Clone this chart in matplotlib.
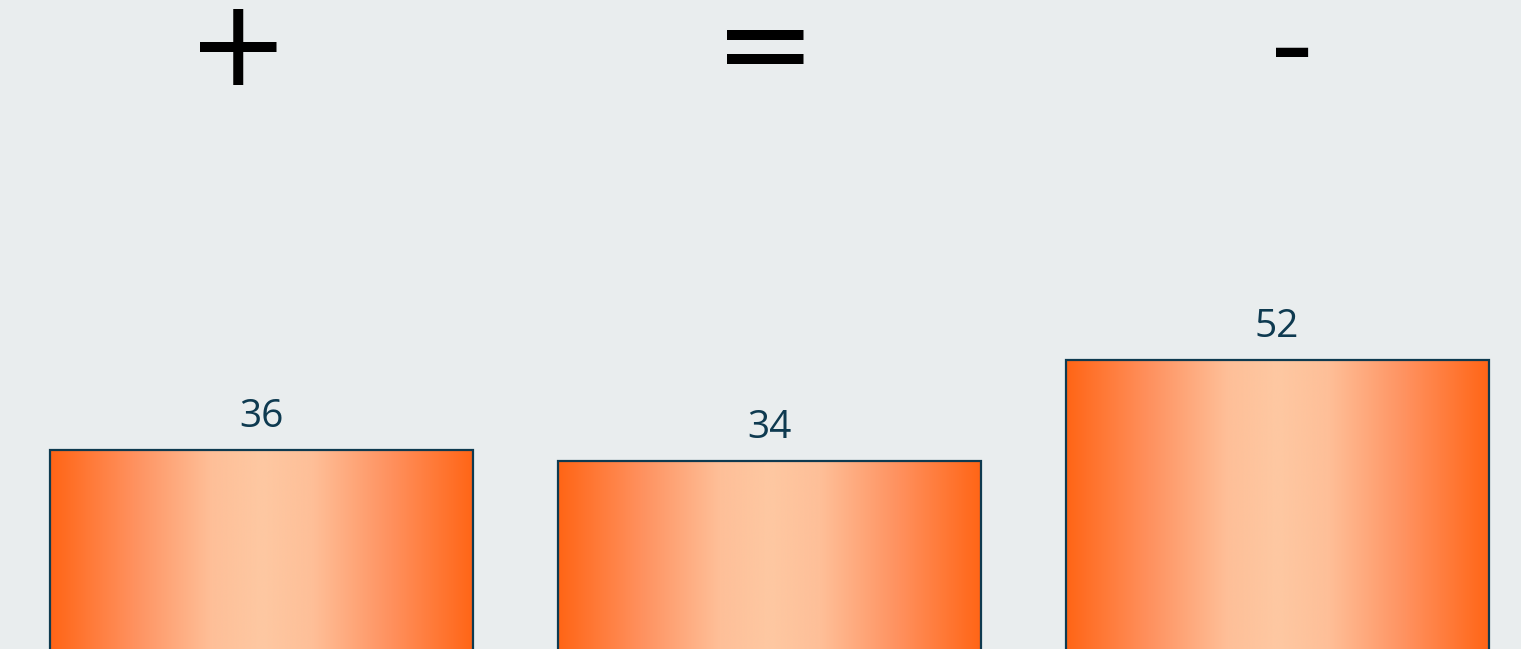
# answer counts by sign
import numpy as np
from matplotlib import pyplot as plt
from matplotlib.colors import LinearSegmentedColormap

plt.ioff()

categories = ['+', '=', '-']
values = [36, 34, 52]

bg = '#e9edee'
edge = '#0e3a50'
grad = LinearSegmentedColormap.from_list('bar', [
    (0.0, '#ff6516'), (0.2, '#ff9260'), (0.38, '#febf98'), (0.5, '#fec8a2'),
    (0.62, '#febf98'), (0.8, '#ff9260'), (1.0, '#ff6516')])

fig = plt.figure(figsize=(15.21, 6.49), dpi=100, facecolor=bg)
ax = fig.add_axes([0, 0, 1, 1])
ax.set_facecolor(bg)

x = np.arange(len(categories))
width = 0.833
bars = ax.bar(x, values, width=width, color='none', edgecolor=edge, linewidth=1.6, zorder=3)

# horizontal gradient fill, clipped to each bar
row = np.linspace(0, 1, 256).reshape(1, -1)
for b in bars:
    x0, y0 = b.get_x(), b.get_y()
    im = ax.imshow(row, cmap=grad, aspect='auto', interpolation='bicubic',
                   extent=(x0, x0 + b.get_width(), y0, y0 + b.get_height()), zorder=2)
    im.set_clip_path(b)

for xi, v in zip(x, values):
    ax.annotate(str(v), (xi, v), xytext=(0, 10), textcoords='offset points',
                ha='center', va='bottom', fontsize=28, color=edge, family='Open Sans')

# big sign headers
for xf, c in zip([0.1565, 0.503, 0.8495], categories):
    ax.text(xf, 0.94, c, transform=ax.transAxes, ha='center', va='center_baseline',
            fontsize=88, color='black', family='DejaVu Sans')

ax.set_xlim(-0.514, 2.480)
ax.set_ylim(0.62, 116)
ax.axis('off')

plt.savefig('out.png', dpi=100, facecolor=bg)
